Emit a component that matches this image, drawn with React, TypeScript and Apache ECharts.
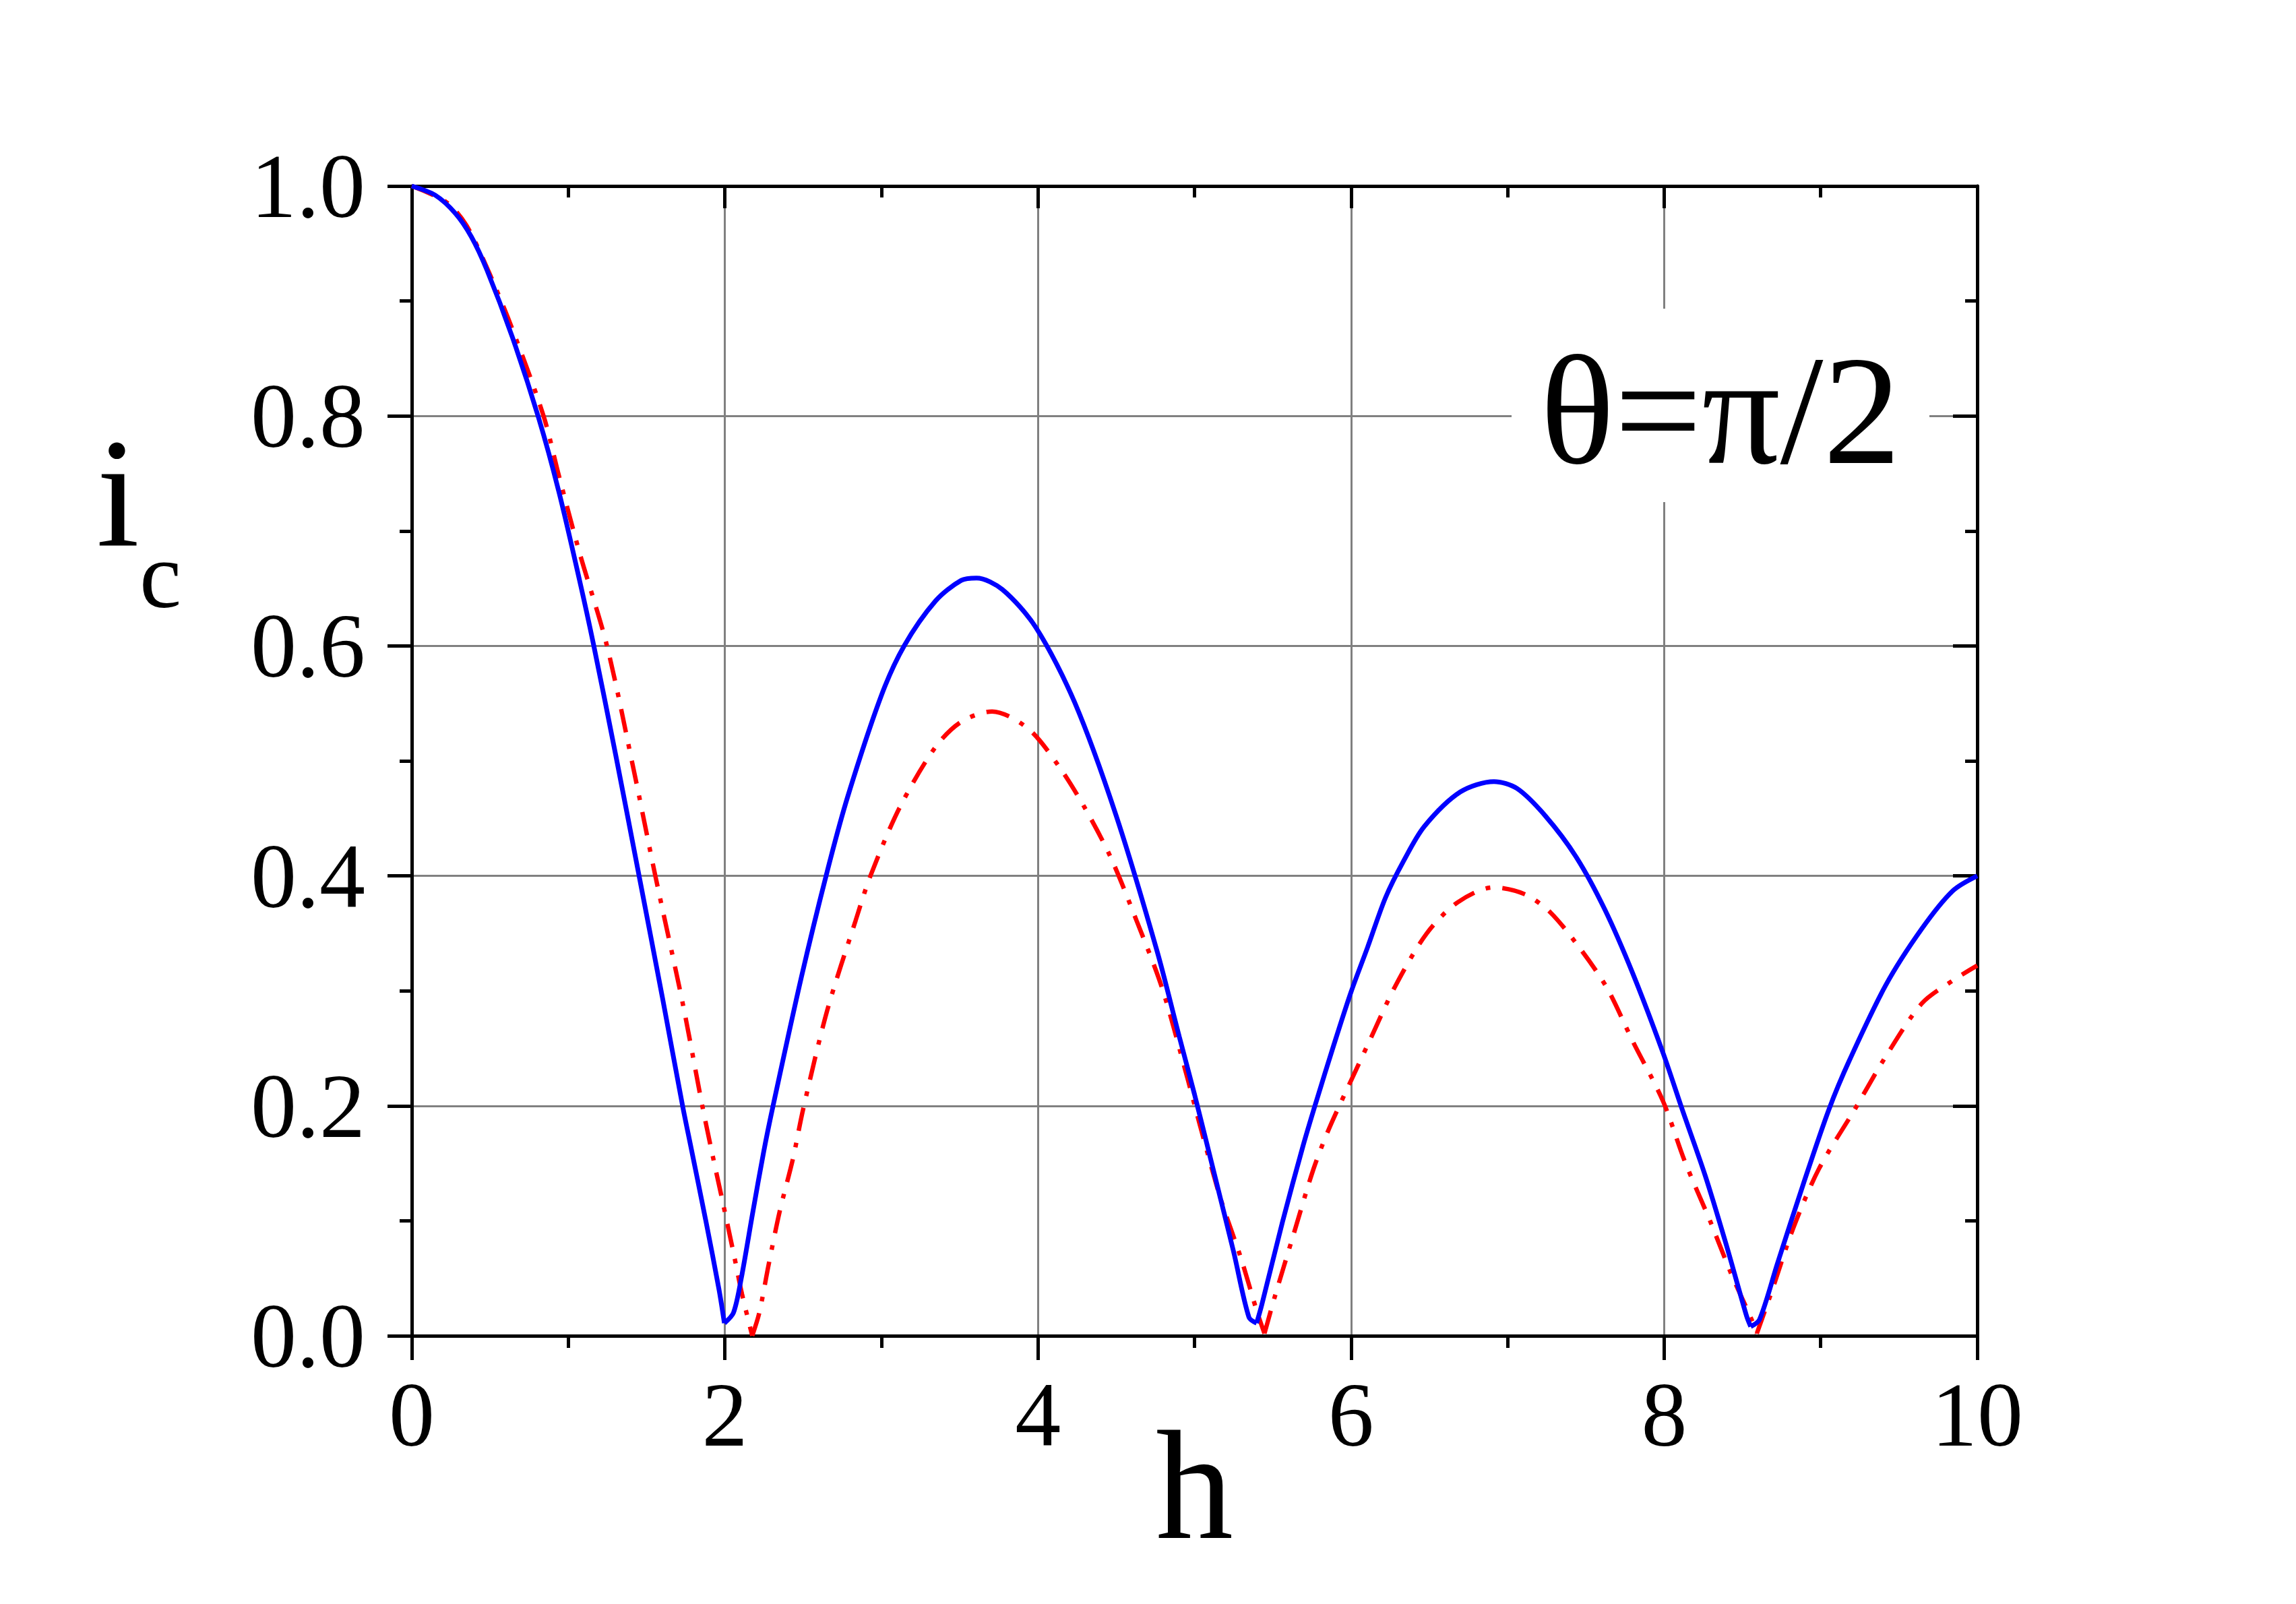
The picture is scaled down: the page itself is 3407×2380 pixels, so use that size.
import React, { useEffect, useRef } from 'react';
import * as echarts from 'echarts';

// x values (h) and critical current values (i_c)
const blueH = [0, 0.15, 0.28, 0.38, 0.48, 0.644, 0.809, 0.94, 1.072, 1.16, 1.303, 1.455, 1.6, 1.73, 1.782, 1.877, 1.963, 1.997, 2.055, 2.105, 2.178, 2.248, 2.308, 2.489, 2.654, 2.785, 3.0, 3.145, 3.345, 3.51, 3.608, 3.773, 3.987, 4.234, 4.498, 4.76, 4.903, 5.0, 5.13, 5.25, 5.348, 5.397, 5.43, 5.562, 5.693, 5.776, 5.89, 6.0, 6.106, 6.22, 6.336, 6.468, 6.698, 6.913, 7.06, 7.242, 7.44, 7.62, 7.8, 7.993, 8.115, 8.263, 8.395, 8.527, 8.553, 8.609, 8.724, 8.889, 9.053, 9.185, 9.416, 9.646, 9.844, 10.0];
const blueI = [1.0, 0.992, 0.976, 0.956, 0.927, 0.868, 0.799, 0.734, 0.657, 0.602, 0.505, 0.398, 0.295, 0.2, 0.165, 0.101, 0.04, 0.011, 0.02, 0.05, 0.107, 0.16, 0.2, 0.312, 0.404, 0.469, 0.557, 0.6, 0.639, 0.657, 0.659, 0.649, 0.616, 0.551, 0.453, 0.335, 0.26, 0.21, 0.139, 0.073, 0.016, 0.011, 0.027, 0.099, 0.165, 0.203, 0.253, 0.299, 0.338, 0.381, 0.413, 0.443, 0.473, 0.482, 0.476, 0.452, 0.416, 0.371, 0.315, 0.246, 0.197, 0.139, 0.08, 0.017, 0.008, 0.014, 0.063, 0.132, 0.197, 0.24, 0.305, 0.354, 0.387, 0.4];

const redH = [0, 0.22, 0.348, 0.496, 0.644, 0.842, 0.94, 1.072, 1.247, 1.418, 1.556, 1.731, 1.856, 1.92, 1.99, 2.06, 2.11, 2.175, 2.22, 2.28, 2.35, 2.435, 2.5, 2.654, 2.835, 2.93, 3.115, 3.345, 3.51, 3.707, 3.938, 4.135, 4.3, 4.465, 4.63, 4.794, 4.959, 5.035, 5.167, 5.298, 5.397, 5.447, 5.513, 5.628, 5.76, 5.859, 6.0, 6.12, 6.286, 6.484, 6.681, 6.91, 7.11, 7.275, 7.473, 7.637, 7.8, 7.993, 8.131, 8.296, 8.428, 8.559, 8.592, 8.691, 8.823, 8.988, 9.218, 9.416, 9.646, 9.844, 10.0];
const redI = [1.0, 0.986, 0.966, 0.924, 0.875, 0.8, 0.748, 0.681, 0.6, 0.492, 0.4, 0.289, 0.2, 0.158, 0.114, 0.069, 0.036, 0.0, 0.02, 0.062, 0.108, 0.154, 0.197, 0.283, 0.361, 0.4, 0.459, 0.512, 0.534, 0.543, 0.528, 0.495, 0.459, 0.416, 0.361, 0.302, 0.222, 0.183, 0.119, 0.067, 0.022, 0.002, 0.034, 0.086, 0.145, 0.18, 0.222, 0.257, 0.305, 0.35, 0.377, 0.39, 0.384, 0.368, 0.335, 0.302, 0.256, 0.204, 0.152, 0.099, 0.054, 0.014, 0.002, 0.04, 0.093, 0.145, 0.197, 0.243, 0.289, 0.309, 0.322];

const xMin = 0;
const xMax = 10;
const xStep = 2;
const yMin = 0;
const yMax = 1;
const yStep = 0.2;

const xAxisName = 'h';
const yNameMain = 'i';
const yNameSub = 'c';
const annotation = 'θ=π/2';

const FONT = 'Liberation Serif';

// split a curve into arches at its local minima, so the cusps stay sharp while arches are smoothed
function arches(xs: number[], ys: number[]): number[][][] {
  const out: number[][][] = [];
  let cur: number[][] = [];
  for (let i = 0; i < xs.length; i++) {
    cur.push([xs[i], ys[i]]);
    const isMin = i > 0 && i < xs.length - 1 && ys[i] < ys[i - 1] && ys[i] <= ys[i + 1];
    if (isMin) {
      out.push(cur);
      cur = [[xs[i], ys[i]]];
    }
  }
  out.push(cur);
  return out;
}

export default function App() {
  const ref = useRef<HTMLDivElement>(null);

  useEffect(() => {
    if (!ref.current) return;
    const chart = echarts.init(ref.current, null, { renderer: 'svg' });

    const black = '#000000';
    const axisLine = { show: true, onZero: false, lineStyle: { color: black, width: 5 } };
    const gridLine = { show: true, lineStyle: { color: '#808080', width: 3 } };

    const redSeries = arches(redH, redI).map((seg) => ({
      type: 'line', name: 'dash-dot', xAxisIndex: 0, yAxisIndex: 0,
      data: seg,
      showSymbol: false, symbol: 'none', smooth: 0.3,
      lineStyle: { color: '#ff0000', width: 6.5, type: [35, 18, 7, 18] },
      z: 3,
    }));
    const blueSeries = arches(blueH, blueI).map((seg) => ({
      type: 'line', name: 'solid', xAxisIndex: 0, yAxisIndex: 0,
      data: seg,
      showSymbol: false, symbol: 'none', smooth: 0.3,
      lineStyle: { color: '#0000ff', width: 7, type: 'solid' },
      z: 4,
    }));

    const option: any = {
      animation: false,
      backgroundColor: '#ffffff',
      grid: {
        left: 611, right: 473, top: 276, bottom: 398,
        containLabel: false, outerBoundsMode: 'none',
      },
      xAxis: [
        {
          type: 'value', position: 'bottom', min: xMin, max: xMax, interval: xStep,
          axisLine,
          axisTick: { show: true, length: 36, lineStyle: { color: black, width: 5 } },
          minorTick: { show: true, splitNumber: 2, length: 18, lineStyle: { color: black, width: 5 } },
          axisLabel: { show: true, fontSize: 136, fontFamily: FONT, color: black, margin: 49 },
          splitLine: gridLine,
          name: xAxisName, nameLocation: 'middle', nameGap: 107, nameMoveOverlap: false,
          nameTextStyle: { fontSize: 230, fontFamily: FONT, color: black },
        },
        {
          type: 'value', position: 'top', min: xMin, max: xMax, interval: xStep,
          axisLine,
          axisTick: { show: true, inside: true, length: 33, lineStyle: { color: black, width: 5 } },
          minorTick: { show: true, splitNumber: 2, length: 17, lineStyle: { color: black, width: 5 } },
          axisLabel: { show: false },
          splitLine: { show: false },
        },
      ],
      yAxis: [
        {
          type: 'value', position: 'left', min: yMin, max: yMax, interval: yStep,
          axisLine,
          axisTick: { show: true, length: 36, lineStyle: { color: black, width: 5 } },
          minorTick: { show: true, splitNumber: 2, length: 18, lineStyle: { color: black, width: 5 } },
          axisLabel: {
            show: true, fontSize: 136, fontFamily: FONT, color: black, margin: 69,
            formatter: (v: number) => v.toFixed(1),
          },
          splitLine: gridLine,
        },
        {
          type: 'value', position: 'right', min: yMin, max: yMax, interval: yStep,
          axisLine,
          axisTick: { show: true, inside: true, length: 36, lineStyle: { color: black, width: 5 } },
          minorTick: { show: true, splitNumber: 2, length: 18, lineStyle: { color: black, width: 5 } },
          axisLabel: { show: false },
          splitLine: { show: false },
        },
      ],
      series: [...redSeries, ...blueSeries],
      graphic: [
        {
          type: 'rect', z: 50,
          shape: { x: 2243, y: 458, width: 620, height: 287 },
          style: { fill: '#ffffff' },
        },
        {
          type: 'text', z: 51, x: 2553, y: 609,
          style: {
            text: annotation, fontSize: 230, fontFamily: FONT, fill: black,
            textAlign: 'center', textVerticalAlign: 'middle',
          },
        },
        {
          type: 'text', z: 51, x: 175, y: 732,
          style: {
            text: yNameMain, fontSize: 230, fontFamily: FONT, fill: black,
            textAlign: 'center', textVerticalAlign: 'middle',
          },
        },
        {
          type: 'text', z: 51, x: 238, y: 853,
          style: {
            text: yNameSub, fontSize: 140, fontFamily: FONT, fill: black,
            textAlign: 'center', textVerticalAlign: 'middle',
          },
        },
      ],
    };

    chart.setOption(option);
    return () => chart.dispose();
  }, []);

  return (
    <div
      ref={ref}
      style={{ position: 'fixed', left: 0, top: 0, width: 3407, height: 2380, background: '#ffffff' }}
    />
  );
}
